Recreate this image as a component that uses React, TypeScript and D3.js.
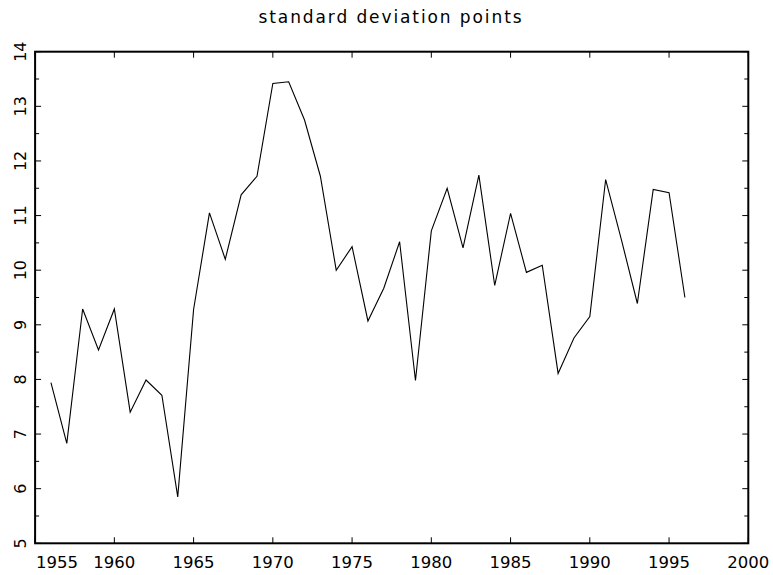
import React from "react";
import * as d3 from "d3";

const years: number[] = d3.range(1956, 1997);
const values: number[] = [
  7.94, 6.83, 9.29, 8.54, 9.29, 7.40, 7.99, 7.71, 5.85, 9.28,
  11.05, 10.20, 11.38, 11.72, 13.42, 13.45, 12.75, 11.72, 10.00, 10.43,
  9.07, 9.67, 10.52, 7.98, 10.72, 11.50, 10.41, 11.74, 9.72, 11.04,
  9.96, 10.09, 8.11, 8.76, 9.15, 11.66, 10.55, 9.39, 11.48, 11.42,
  9.50,
];
const xTicks: number[] = [1955, 1960, 1965, 1970, 1975, 1980, 1985, 1990, 1995, 2000];
const yTicks: number[] = [5, 6, 7, 8, 9, 10, 11, 12, 13, 14];
const yMinor: number[] = [5.5, 6.5, 7.5, 8.5, 9.5, 10.5, 11.5, 12.5, 13.5];
const title = "standard deviation points";

const W = 773;
const H = 575;
const L = 35.1, R = 748.3, T = 51.7, B = 543.3;

export default function App() {
  const x = d3.scaleLinear().domain([1955, 2000]).range([L, R]);
  const y = d3.scaleLinear().domain([5, 14]).range([B, T]);
  const line = d3
    .line<number>()
    .x((_, i) => x(years[i]))
    .y((d) => y(d));
  const font = "'DejaVu Sans', sans-serif";
  return (
    <svg
      width={W}
      height={H}
      style={{ position: "absolute", left: 0, top: 0, background: "#fff" }}
    >
      <text
        x={391}
        y={23}
        textAnchor="middle"
        fontFamily={font}
        fontSize={17}
        letterSpacing={1.9}
        fill="#000"
      >
        {title}
      </text>
      <path d={line(values) || ""} fill="none" stroke="#000" strokeWidth={1.1} />
      <rect
        x={L}
        y={T}
        width={R - L}
        height={B - T}
        fill="none"
        stroke="#000"
        strokeWidth={2}
      />
      {yTicks.map((t) => (
        <g key={"y" + t}>
          <line x1={L} x2={L + 6} y1={y(t)} y2={y(t)} stroke="#000" strokeWidth={1} />
          <line x1={R} x2={R - 6} y1={y(t)} y2={y(t)} stroke="#000" strokeWidth={1} />
          <text
            transform={`translate(26,${y(t)}) rotate(-90)`}
            textAnchor="middle"
            fontFamily={font}
            fontSize={16}
            fill="#000"
          >
            {t}
          </text>
        </g>
      ))}
      {yMinor.map((t) => (
        <g key={"ym" + t}>
          <line x1={L} x2={L + 4} y1={y(t)} y2={y(t)} stroke="#000" strokeWidth={1} />
          <line x1={R} x2={R - 4} y1={y(t)} y2={y(t)} stroke="#000" strokeWidth={1} />
        </g>
      ))}
      {xTicks.map((t, i) => (
        <g key={"x" + t}>
          <line x1={x(t)} x2={x(t)} y1={B} y2={B - 6} stroke="#000" strokeWidth={1} />
          <line x1={x(t)} x2={x(t)} y1={T} y2={T + 6} stroke="#000" strokeWidth={1} />
          <text
            x={i === 0 ? x(t) + 1 : x(t)}
            y={568}
            textAnchor={i === 0 ? "start" : "middle"}
            fontFamily={font}
            fontSize={16.5}
            fill="#000"
          >
            {t}
          </text>
        </g>
      ))}
    </svg>
  );
}
